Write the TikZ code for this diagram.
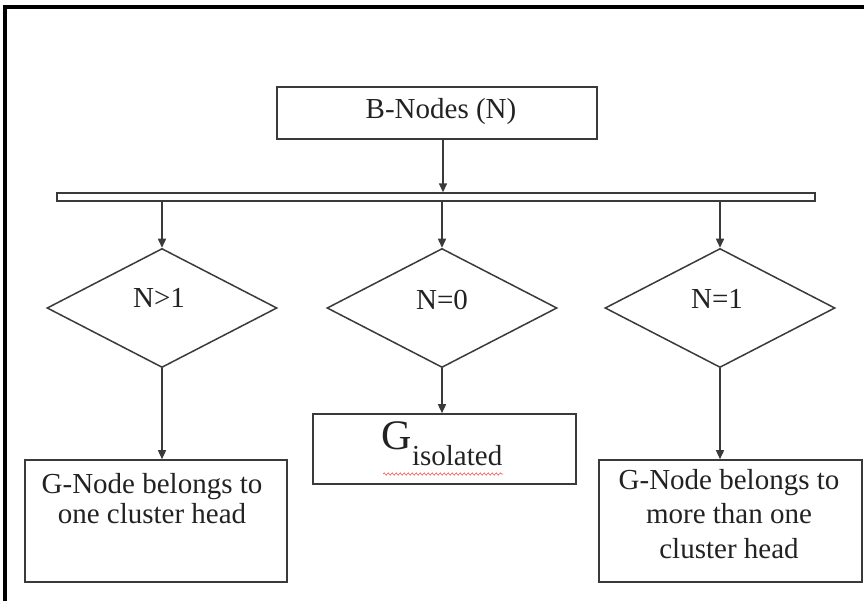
\documentclass[tikz,border=0pt]{standalone}
\usepackage{fontspec}
\setmainfont{Liberation Serif}
\usetikzlibrary{shapes.geometric,arrows.meta,decorations.pathmorphing}
\definecolor{ln}{HTML}{3A3A3A}
\definecolor{tx}{HTML}{222222}
\tikzset{
  box/.style={draw=ln, line width=1.6pt, inner sep=0pt, rectangle},
  dia/.style={draw=ln, line width=1.5pt, diamond, inner sep=0pt, minimum width=230pt, minimum height=119pt},
  arr/.style={draw=ln, line width=1.5pt, -{Triangle[length=9pt,width=8pt]}},
  txt/.style={text=tx, inner sep=0pt, font=\fontsize{29}{34}\selectfont},
}
\begin{document}
\begin{tikzpicture}[x=1pt,y=-1pt]
\useasboundingbox (0,0) rectangle (864,601);
\draw[line width=4pt] (5,601) -- (5,7) -- (864,7);

\node[box, minimum width=320pt, minimum height=52pt] (bn) at (437,113) {};
\node[txt] (bntxt) at (441,112) {B-Nodes (N)};

\node[box, line width=1.4pt, minimum width=758pt, minimum height=8pt] (bar) at (436,197) {};

\node[dia] (d1) at (162,308) {};
\node[dia] (d2) at (442,308) {};
\node[dia] (d3) at (720,308) {};
\node[txt] at (159,298) {N>1};
\node[txt] at (442,300) {N=0};
\node[txt] at (717,299) {N=1};

\node[box, minimum width=262pt, minimum height=122pt] (b1) at (156,521) {};
\node[box, minimum width=263pt, minimum height=70pt] (b2) at (444.5,449) {};
\node[box, minimum width=263pt, minimum height=122pt] (b3) at (730.5,521) {};

\node[txt, anchor=base] at (152,493) {G-Node belongs to};
\node[txt, anchor=base] at (152,523) {one cluster head};

\node[text=tx, inner sep=0pt, anchor=base, font=\fontsize{42}{42}\selectfont] (gtxt) at (442,449) {G\raisebox{-16pt}{\fontsize{29}{34}\selectfont isolated}};
\draw[red!70, line width=0.6pt, decorate, decoration={snake, amplitude=1.1pt, segment length=4pt}] (383,474) -- (503,474);

\node[txt, anchor=base] at (729,489) {G-Node belongs to};
\node[txt, anchor=base] at (729,523) {more than one};
\node[txt, anchor=base] at (729,558) {cluster head};

\draw[arr] (bn.south -| bntxt) ++(2,0) coordinate (bs) -- (bs |- bar.north);
\draw[arr] (bar.south -| d1.north) -- (d1.north);
\draw[arr] (bar.south -| d2.north) -- (d2.north);
\draw[arr] (bar.south -| d3.north) -- (d3.north);
\draw[arr] (d1.south) -- (d1.south |- b1.north);
\draw[arr] (d2.south) -- (d2.south |- b2.north);
\draw[arr] (d3.south) -- (d3.south |- b3.north);
\end{tikzpicture}
\end{document}
